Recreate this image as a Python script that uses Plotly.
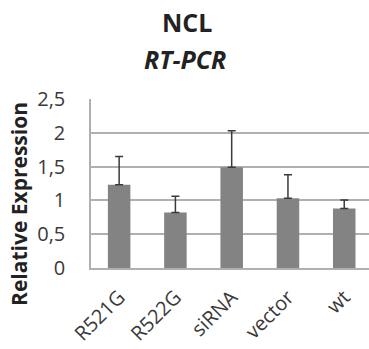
import plotly.graph_objects as go

categories = ["R521G", "R522G", "siRNA", "vector", "wt"]
values = [1.23, 0.82, 1.49, 1.03, 0.88]
errors = [0.42, 0.24, 0.54, 0.35, 0.125]
y_ticks = [0, 0.5, 1, 1.5, 2, 2.5]

font = "Open Sans"

fig = go.Figure()
fig.add_trace(go.Bar(
    x=categories, y=values, width=0.4,
    marker=dict(color="#838383", line=dict(width=0)),
    error_y=dict(type="data", array=errors, arrayminus=[0]*len(errors), symmetric=False,
                 color="#3a3a3a", thickness=1.5, width=4),
))

fig.update_layout(
    width=369, height=349,
    margin=dict(l=91, r=0, t=99, b=81),
    paper_bgcolor="white", plot_bgcolor="white",
    separators=",.",
    showlegend=False,
    font=dict(family=font, color="#3a3a3a"),
)
fig.update_xaxes(
    range=[-0.5, 4.44], showgrid=False, showline=True, linecolor="#b0b0b0", linewidth=1.5,
    tickangle=-45, tickfont=dict(size=20, family=font, color="#3a3a3a"), ticks="",
    ticklabelstandoff=8,
)
fig.update_yaxes(
    range=[0, 2.5], tickvals=y_ticks, showgrid=True, gridcolor="#b0b0b0", gridwidth=1.5,
    showline=True, linecolor="#b0b0b0", linewidth=1.5, zeroline=False,
    tickfont=dict(size=20, family=font, color="#3a3a3a"), ticks="", ticklabelstandoff=20,
)

fig.add_annotation(text="<b>NCL</b>", xref="paper", yref="paper", x=0.345, y=1.456,
                   showarrow=False, font=dict(size=25, family=font, color="#222222"),
                   xanchor="center", yanchor="middle")
fig.add_annotation(text="<b><i>RT-PCR</i></b>", xref="paper", yref="paper", x=0.338, y=1.237,
                   showarrow=False, font=dict(size=25, family=font, color="#222222"),
                   xanchor="center", yanchor="middle")
fig.add_annotation(text="<b>Relative Expression</b>", xref="paper", yref="paper", x=-0.259, y=0.379,
                   textangle=-90, showarrow=False, font=dict(size=21, family=font, color="#222222"),
                   xanchor="center", yanchor="middle")

fig.write_html("out.html", config={"displayModeBar": False},
               post_script="document.body.style.margin='0px';")
